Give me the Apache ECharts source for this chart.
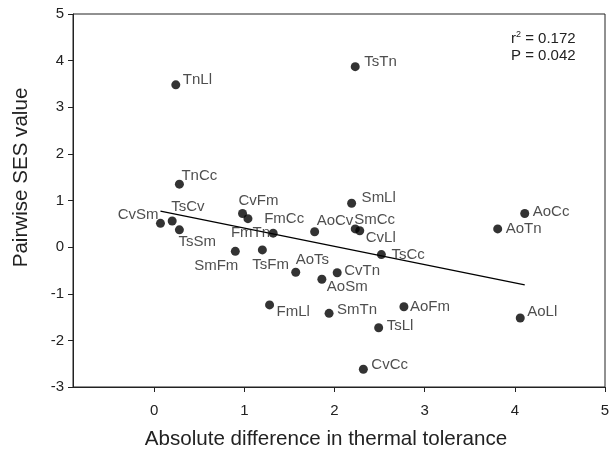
<!DOCTYPE html>
<html>
<head>
<meta charset="utf-8">
<script src="https://cdn.jsdelivr.net/npm/echarts@6/dist/echarts.min.js"></script>
<style>html,body{margin:0;padding:0;background:#fff}#c{width:616px;height:458px}</style>
</head>
<body>
<div id="c"></div>
<script>
var pairNames = ['TsTn','TnLl','TnCc','CvSm','TsCv','TsSm','SmFm','CvFm','FmTn','FmCc','AoCv','SmLl','SmCc','CvLl','TsCc','AoTs','TsFm','CvTn','AoSm','FmLl','SmTn','AoFm','TsLl','CvCc','AoCc','AoTn','AoLl'];
var thermalDiff = [2.23,0.24,0.28,0.07,0.20,0.28,0.90,0.98,1.04,1.32,1.78,2.19,2.23,2.28,2.52,1.57,1.20,2.03,1.86,1.28,1.94,2.77,2.49,2.32,4.11,3.81,4.06];
var sesValue =   [3.87,3.48,1.35,0.51,0.56,0.37,-0.09,0.72,0.61,0.30,0.33,0.94,0.39,0.35,-0.16,-0.54,-0.06,-0.55,-0.69,-1.24,-1.42,-1.28,-1.73,-2.62,0.72,0.39,-1.52];
var fitX = [0.07, 4.11];
var fitY = [0.77, -0.81];
var xTicks = [0,1,2,3,4,5];

// label placement (style only): [align, dx, dy] relative to dot centre
var labelPlace = {
  TsTn:['left',9,-5], TnLl:['left',7,-5], TnCc:['left',2,-8], CvSm:['right',-2,-8],
  TsCv:['left',-1,-14], TsSm:['left',-1,12], SmFm:['right',3,15], CvFm:['left',-4,-13],
  FmTn:['left',-17,14], FmCc:['left',-9,-14], AoCv:['left',2,-11], SmLl:['left',10,-5],
  SmCc:['left',-1,-9], CvLl:['left',6,7], TsCc:['left',10,0], AoTs:['left',0,-12],
  TsFm:['left',-10,15], CvTn:['left',7,-2], AoSm:['left',5,8], FmLl:['left',7,7],
  SmTn:['left',8,-3], AoFm:['left',6,0], TsLl:['left',8,-2], CvCc:['left',8,-4],
  AoCc:['left',8,-2], AoTn:['left',8,0], AoLl:['left',7,-6]
};
var R = 4.5;
var pts = pairNames.map(function(n,i){
  var p = labelPlace[n];
  return {name:n, value:[thermalDiff[i], sesValue[i]],
    label:{show:true, position:[R+p[1], R+p[2]], align:p[0], verticalAlign:'middle', formatter:n}};
});

var txt = '#222';
var FF = 'Liberation Sans, Arial, sans-serif';
var chart = echarts.init(document.getElementById('c'));
chart.setOption({
  animation:false,
  grid:{left:73,right:11,top:14,bottom:71,show:true,borderColor:'#222',borderWidth:1},
  xAxis:{type:'value',min:-0.9,max:5,
    axisLine:{show:true,onZero:false,lineStyle:{color:'#222',width:1}},
    axisTick:{show:true,inside:false,length:5,customValues:xTicks,lineStyle:{color:'#222'}},
    axisLabel:{color:txt,fontSize:15,fontFamily:FF,margin:16,customValues:xTicks},
    splitLine:{show:false}},
  yAxis:{type:'value',min:-3,max:5,interval:1,
    axisLine:{show:true,onZero:false,lineStyle:{color:'#222',width:1}},
    axisTick:{show:true,inside:false,length:5,lineStyle:{color:'#222'}},
    axisLabel:{color:txt,fontSize:15,fontFamily:FF,margin:9},
    splitLine:{show:false}},
  series:[
    {type:'line',data:fitX.map(function(x,i){return [x,fitY[i]];}),symbol:'none',
      lineStyle:{color:'#000',width:1.3},silent:true,z:1},
    {type:'scatter',data:pts,symbol:'circle',symbolSize:9,itemStyle:{color:'#000'},
      label:{color:txt,fontSize:15,fontFamily:FF},labelLayout:{hideOverlap:false},z:2}
  ],
  graphic:[
    {type:'text',x:326,y:439,style:{text:'Absolute difference in thermal tolerance',
      fontSize:20.6,fontFamily:FF,fill:txt,align:'center',verticalAlign:'middle'}},
    {type:'text',x:21.5,y:177.5,rotation:Math.PI/2,style:{text:'Pairwise SES value',
      fontSize:20.6,fontFamily:FF,fill:txt,align:'center',verticalAlign:'middle'}},
    {type:'text',left:511,top:30,style:{
      text:'{a|r}{s|2}{a| = 0.172}\n{a|P = 0.042}',
      rich:{a:{fontSize:15,fontFamily:FF,fill:txt,lineHeight:17},
            s:{fontSize:9,fontFamily:FF,fill:txt,verticalAlign:'top',lineHeight:17,padding:[0,0,7,0]}}
    }}
  ]
});
</script>
</body>
</html>
